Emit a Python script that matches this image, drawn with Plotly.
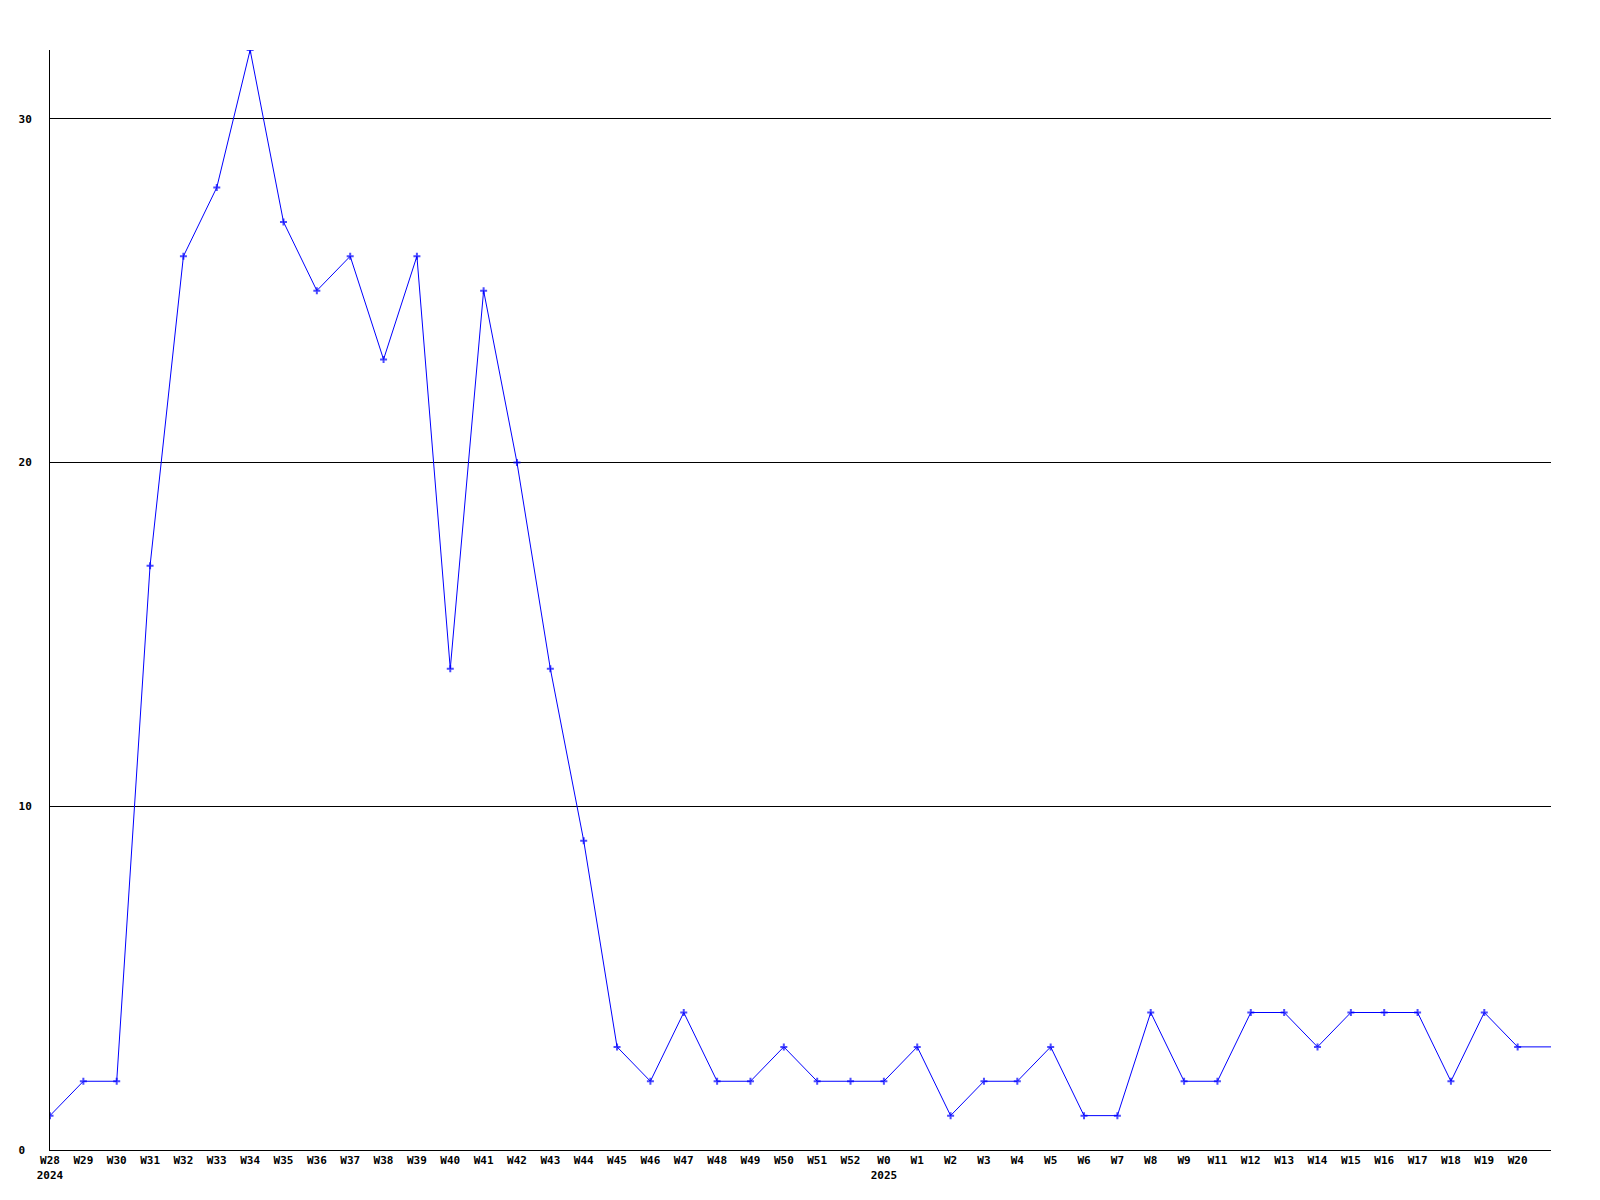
import plotly.graph_objects as go

weeks = ["W28", "W29", "W30", "W31", "W32", "W33", "W34", "W35", "W36", "W37",
         "W38", "W39", "W40", "W41", "W42", "W43", "W44", "W45", "W46", "W47",
         "W48", "W49", "W50", "W51", "W52", "W0", "W1", "W2", "W3", "W4",
         "W5", "W6", "W7", "W8", "W9", "W11", "W12", "W13", "W14", "W15",
         "W16", "W17", "W18", "W19", "W20", ""]
years = {"W28": "2024", "W0": "2025"}
values = [1, 2, 2, 17, 26, 28, 32, 27, 25, 26,
          23, 26, 14, 25, 20, 14, 9, 3, 2, 4,
          2, 2, 3, 2, 2, 2, 3, 1, 2, 2,
          3, 1, 1, 4, 2, 2, 4, 4, 3, 4,
          4, 4, 2, 4, 3, 3]
y_ticks = [0, 10, 20, 30]

xs = list(range(len(weeks)))
ticktext = [w + ("<br>" + years[w] if w in years else "") for w in weeks]
sizes = [5 if w else 0 for w in weeks]
ytext = [str(v).ljust(2, "\u00a0") for v in y_ticks]

font = dict(family="DejaVu Sans Mono, Liberation Mono, monospace", size=11,
            color="black", weight="bold")

fig = go.Figure()
fig.add_trace(go.Scatter(
    x=xs, y=values, mode="lines+markers",
    line=dict(color="#0000ff", width=1),
    marker=dict(color="#0000ff", size=sizes, symbol="cross-thin",
                line=dict(color="#0000ff", width=2)),
    cliponaxis=True, showlegend=False,
))

fig.update_layout(
    width=1600, height=1200,
    margin=dict(l=42, r=57, t=42, b=58, autoexpand=False),
    paper_bgcolor="white", plot_bgcolor="white",
    font=font,
    xaxis=dict(range=[0, len(weeks) - 1], tickmode="array", tickvals=xs,
               ticktext=ticktext, showgrid=False, zeroline=False,
               showline=True, linecolor="black", linewidth=1,
               ticks="", tickangle=0, tickfont=font, automargin=False),
    yaxis=dict(range=[0, 32], tickmode="array", tickvals=y_ticks,
               ticktext=ytext,
               showgrid=True, gridcolor="black", gridwidth=1,
               zeroline=False, showline=True, linecolor="black", linewidth=1,
               ticks="", ticklabelstandoff=15, tickfont=font, automargin=False),
)

fig.write_html("out.html")
